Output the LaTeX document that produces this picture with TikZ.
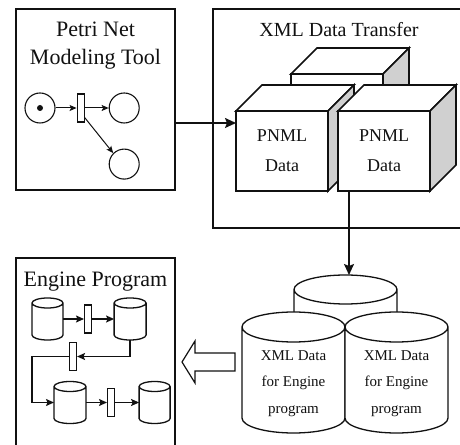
\documentclass[tikz,border=0pt]{standalone}
\usepackage{fontspec}
\setmainfont{Liberation Serif}
\usetikzlibrary{arrows.meta,calc,positioning}
\definecolor{ink}{HTML}{111111}
\definecolor{sidegray}{HTML}{D0D0D0}
\tikzset{
  every node/.style={text=ink},
  tool box/.style={draw=ink,line width=1.8pt,inner sep=0pt,outer sep=0pt},
  box title/.style={font=\fontsize{22}{28}\selectfont,align=center,inner sep=0pt},
  place/.style={circle,draw=ink,line width=1.1pt,minimum size=30pt,inner sep=0pt},
  token/.style={circle,fill=ink,minimum size=6pt,inner sep=0pt},
  bar/.style={rectangle,draw=ink,fill=white,line width=1.1pt,
    minimum width=7pt,minimum height=28pt,inner sep=0pt},
  cube front/.style={rectangle,draw=ink,fill=white,line width=1.7pt,
    minimum width=92pt,minimum height=80pt,inner sep=0pt,outer sep=0pt,
    align=center,font=\fontsize{18}{30}\selectfont},
  cyl box/.style={rectangle,inner sep=0pt,outer sep=0pt},
  db text/.style={align=center,font=\fontsize{15}{26.5}\selectfont,inner sep=0pt},
  flow arrow/.style={-{Stealth[length=11pt,width=10pt,inset=2pt]},line width=1.6pt,draw=ink},
  net arrow/.style={-{Stealth[length=7pt,width=6pt,inset=1.5pt]},line width=1pt,draw=ink},
  eng arrow/.style={-{Stealth[length=8pt,width=7pt,inset=1.5pt]},line width=1.3pt,draw=ink},
}
% top and side faces of a cube, drawn on its front node
\newcommand{\cubesides}[2]{%
  \draw[draw=ink,fill=white,line width=1.7pt]
    (#1.north west) -- ++(#2,#2) -- ([shift={(#2,#2)}]#1.north east) -- (#1.north east) -- cycle;
  \draw[draw=ink,fill=sidegray,line width=1.7pt]
    (#1.north east) -- ([shift={(#2,#2)}]#1.north east)
    -- ([shift={(#2,#2)}]#1.south east) -- (#1.south east) -- cycle;
}
% cylinder filling the box of a node
\newcommand{\cylinder}[3]{%
  \path[draw=ink,fill=white,line width=#3]
    let \p1=(#1.north west), \p2=(#1.south east), \n1={(\x2-\x1)/2} in
    (\x1,\y1-#2pt) -- (\x1,\y2+#2pt)
    arc[start angle=180,end angle=360,x radius=\n1,y radius=#2pt]
    -- (\x2,\y1-#2pt)
    arc[start angle=0,end angle=180,x radius=\n1,y radius=#2pt] -- cycle
    (\x1,\y1-#2pt) arc[start angle=180,end angle=360,x radius=\n1,y radius=#2pt];
}

\begin{document}
\begin{tikzpicture}[x=1pt,y=1pt]
  \clip (0,0) rectangle (460,444);

  % Petri net tool
  \node[tool box,minimum width=159pt,minimum height=181pt] (petri) at (95.5,344.5) {};
  \node[box title,anchor=north,below=13pt of petri.north] (petriTitle) {Petri Net\\Modeling Tool};
  \node[place] (p1) at (40,336) {};
  \node[token] (tok) at (p1) {};
  \node[bar,right=21pt of p1] (tr) {};
  \node[place,right=24pt of tr] (p2) {};
  \node[place,below=25pt of p2] (p3) {};
  \draw[net arrow] (p1) -- (tr);
  \draw[net arrow] (tr) -- (p2);
  \draw[net arrow] ([yshift=5pt]tr.south east) -- (p3.north west);

  % XML data transfer
  \node[tool box,minimum width=252pt,minimum height=219pt] (xml) at (339,325.5) {};
  \node[box title,font=\fontsize{20}{24}\selectfont,below=13pt of xml.north] (xmlTitle) {XML Data Transfer};
  \node[cube front] (pnmlBack) at (337,330) {};
  \cubesides{pnmlBack}{26}
  \node[cube front] (pnmlA) at (282,293) {PNML\\Data};
  \cubesides{pnmlA}{26}
  \node[cube front,right=10pt of pnmlA] (pnmlB) {PNML\\Data};
  \cubesides{pnmlB}{26}

  \draw[flow arrow] ([yshift=-23.5pt]petri.east) -- ([yshift=-23.5pt]petri.east -| pnmlA.west);

  % XML data for the engine
  \node[cyl box,minimum width=103pt,minimum height=69pt] (dbBack) at (345.5,134.5) {};
  \cylinder{dbBack}{14.5}{1.3pt}
  \node[cyl box,minimum width=103pt,minimum height=121pt] (dbA) at (293.5,71.5) {};
  \cylinder{dbA}{15}{1.3pt}
  \node[cyl box,minimum width=103pt,minimum height=121pt,right=0pt of dbA] (dbB) {};
  \cylinder{dbB}{15}{1.3pt}
  \node[db text] (dbAtext) at ([yshift=-11pt]dbA.center) {XML Data\\for Engine\\program};
  \node[db text] (dbBtext) at ([yshift=-11pt]dbB.center) {XML Data\\for Engine\\program};

  \draw[flow arrow] ([xshift=11pt]pnmlB.south west) -- ([xshift=11pt]pnmlB.south west |- dbBack.north);

  % hollow arrow
  \draw[draw=ink,fill=white,line width=1.2pt]
    (182,82) -- (195,103) -- (195,91) -- (235,91) -- (235,73) -- (195,73) -- (195,61) -- cycle;

  % engine program
  \node[tool box,minimum width=159pt,minimum height=190pt] (engine) at (95.5,91) {};
  \node[box title,below=14pt of engine.north] (engineTitle) {Engine Program};
  \node[cyl box,minimum width=31pt,minimum height=42pt] (e1) at (47.5,125) {};
  \cylinder{e1}{5}{1.3pt}
  \node[bar,right=21pt of e1] (t1) {};
  \node[cyl box,minimum width=32pt,minimum height=42pt,right=22pt of t1] (e2) {};
  \cylinder{e2}{5}{1.3pt}
  \node[bar] (t2) at (73,87.5) {};
  \node[cyl box,minimum width=32pt,minimum height=42pt] (e3) at (70,41.5) {};
  \cylinder{e3}{5}{1.3pt}
  \node[bar,right=21pt of e3] (t3) {};
  \node[cyl box,minimum width=31pt,minimum height=42pt,right=24pt of t3] (e4) {};
  \cylinder{e4}{5}{1.3pt}

  \draw[eng arrow] (e1) -- (t1);
  \draw[eng arrow] (t1) -- (e2);
  \draw[eng arrow] (e2.south) |- (t2.east);
  \draw[eng arrow] (t2.west) -- (t2.west -| e1.west) |- (e3.west);
  \draw[eng arrow] (e3) -- (t3);
  \draw[eng arrow] (t3) -- (e4);
\end{tikzpicture}
\end{document}
